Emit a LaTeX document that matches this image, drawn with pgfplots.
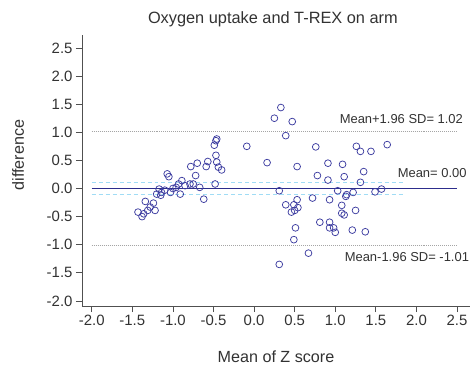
\documentclass[border=0pt]{standalone}
\usepackage{pgfplots}
\pgfplotsset{compat=1.18}
\usepackage{fontspec}
\setmainfont{Liberation Sans}
\definecolor{mk}{RGB}{60,60,160}
\definecolor{meanc}{RGB}{45,45,140}
\definecolor{cic}{RGB}{160,220,245}
\definecolor{refc}{RGB}{165,165,165}
\definecolor{axc}{RGB}{80,80,80}
\definecolor{txc}{RGB}{50,50,50}
\begin{document}
\begin{tikzpicture}
\useasboundingbox (-82bp,-65bp) rectangle (390bp,306bp);
\begin{axis}[
  at={(0,0)}, anchor=south west,
  scale only axis, width=388bp, height=271bp,
  xmin=-2.12, xmax=2.66, ymin=-2.09, ymax=2.73,
  axis x line*=bottom, axis y line*=left,
  axis line style={axc, line width=0.8pt, -},
  xtick={-2,-1.5,...,2.5}, ytick={-2,-1.5,...,2.5},
  tick align=outside, major tick length=6bp,
  tick style={axc, line width=0.8pt},
  /pgf/number format/.cd, fixed, fixed zerofill, precision=1, assume math mode=true,
  /pgfplots/.cd,
  ticklabel style={font=\fontsize{15}{17}\selectfont, text=txc},
  xlabel={Mean of Z score}, ylabel={difference},
  label style={font=\fontsize{16.2}{18}\selectfont, text=txc},
  xlabel style={at={(rel axis cs:0.5,0)}, anchor=center, yshift=-51bp},
  ylabel style={at={(rel axis cs:0,0.557)}, anchor=center, yshift=64bp},
  title={Oxygen uptake and T-REX on arm},
  title style={at={(rel axis cs:0.492,1)}, anchor=center, yshift=10bp, font=\fontsize{16.4}{18}\selectfont, text=txc},
  clip=false,
]
\addplot[refc, line width=0.9pt, dash pattern=on 1pt off 1pt] coordinates {(-2.0,1.02) (2.5,1.02)};
\addplot[refc, line width=0.9pt, dash pattern=on 1pt off 1pt] coordinates {(-2.0,-1.01) (2.5,-1.01)};
\addplot[cic, line width=0.9pt, dash pattern=on 4pt off 3pt] coordinates {(-2.0,0.11) (1.84,0.11)};
\addplot[cic, line width=0.9pt, dash pattern=on 4pt off 3pt] coordinates {(-2.0,-0.10) (1.84,-0.10)};
\addplot[meanc, line width=1.1pt] coordinates {(-2.0,0.0) (2.5,0.0)};
\addplot[only marks, mark=o, mark size=3.4bp, mark options={mk, line width=0.75pt}] coordinates {
(-1.43,-0.42) (-1.38,-0.50) (-1.34,-0.23) (-1.31,-0.39) (-1.24,-0.26) (-1.22,-0.39)
(-1.20,-0.10) (-1.17,-0.01) (-1.14,-0.07) (-1.10,-0.03) (-1.07,0.26) (-1.05,0.21)
(-1.03,-0.07) (-0.96,0.02) (-0.91,-0.10) (-0.93,0.08) (-0.89,0.14) (-0.79,0.08)
(-0.78,0.39) (-0.75,0.08) (-0.72,0.23) (-0.70,0.45) (-0.67,0.02) (-0.62,-0.19)
(-0.59,0.39) (-0.57,0.48) (-0.49,0.77) (-0.47,0.85) (-0.46,0.88) (-0.47,0.59)
(-0.46,0.47) (-0.44,0.38) (-0.40,0.33) (-0.48,0.08)
(-1.28,-0.33) (-1.36,-0.45) (-1.15,-0.12) (-1.00,0.00) (-0.85,0.05)
(-0.09,0.75) (0.16,0.46) (0.25,1.25) (0.33,1.44) (0.47,1.19) (0.39,0.94)
(0.31,-0.04) (0.31,-1.35) (0.76,0.74) (1.26,0.75) (1.31,0.66) (1.44,0.66) (1.64,0.78)
(0.53,0.39) (0.91,0.45) (1.09,0.43) (1.35,0.30) (0.78,0.23) (0.91,0.15) (1.11,0.21)
(1.31,0.11) (1.03,-0.04) (1.14,-0.11) (1.13,-0.14) (1.22,-0.07) (1.49,-0.06) (1.57,-0.01)
(0.53,-0.20) (0.72,-0.17) (0.93,-0.20) (0.39,-0.29) (0.49,-0.29) (0.54,-0.34)
(0.50,-0.39) (0.46,-0.42) (1.08,-0.30) (1.08,-0.44) (1.11,-0.47) (1.25,-0.39)
(0.81,-0.60) (0.93,-0.60) (0.93,-0.70) (0.98,-0.70) (1.00,-0.78) (0.51,-0.70)
(0.49,-0.91) (1.21,-0.74) (1.37,-0.77) (0.67,-1.15)
};
\node[anchor=base east, inner sep=0pt, font=\fontsize{13}{15}\selectfont, text=txc] at (axis cs:2.575,1.16) {Mean+1.96 SD= 1.02};
\node[anchor=base east, inner sep=0pt, font=\fontsize{13}{15}\selectfont, text=txc] at (axis cs:2.62,0.19) {Mean= 0.00};
\node[anchor=base east, inner sep=0pt, font=\fontsize{13}{15}\selectfont, text=txc] at (axis cs:2.65,-1.29) {Mean-1.96 SD= -1.01};
\end{axis}
\end{tikzpicture}
\end{document}
